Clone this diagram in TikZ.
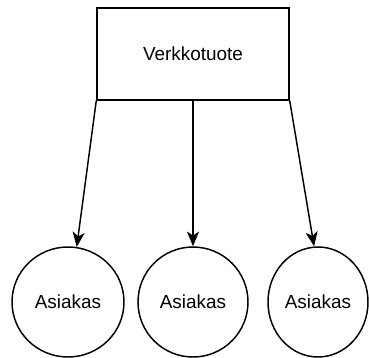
\documentclass[tikz,border=0pt]{standalone}
\usepackage{fontspec}
\setmainfont{Liberation Sans}
\usetikzlibrary{arrows.meta,shapes.geometric}
\begin{document}
\begin{tikzpicture}[x=0.75pt,y=-0.75pt,
  box/.style={draw,line width=1.1pt,minimum width=192*0.75pt,minimum height=92*0.75pt,inner sep=0pt,font=\fontsize{14.2pt}{17pt}\selectfont},
  cust/.style={draw,ellipse,line width=1.1pt,inner sep=0pt,font=\fontsize{14.2pt}{17pt}\selectfont},
  conn/.style={line width=1.1pt,-{Stealth[length=11pt,width=9pt,inset=3pt]}}]
\useasboundingbox (0,0) rectangle (369,358);
\node[box] (p) at (193,54) {Verkkotuote};
\node[cust,minimum width=112*0.75pt,minimum height=110*0.75pt] (a1) at (68,302) {Asiakas};
\node[cust,minimum width=110*0.75pt,minimum height=110*0.75pt] (a2) at (193,302) {Asiakas};
\node[cust,minimum width=100*0.75pt,minimum height=110*0.75pt] (a3) at (318,302) {Asiakas};
\draw[conn] (p.south west) -- (a1.81);
\draw[conn] (p.south) -- (a2.north);
\draw[conn] (p.south east) -- (a3.94);
\end{tikzpicture}
\end{document}
